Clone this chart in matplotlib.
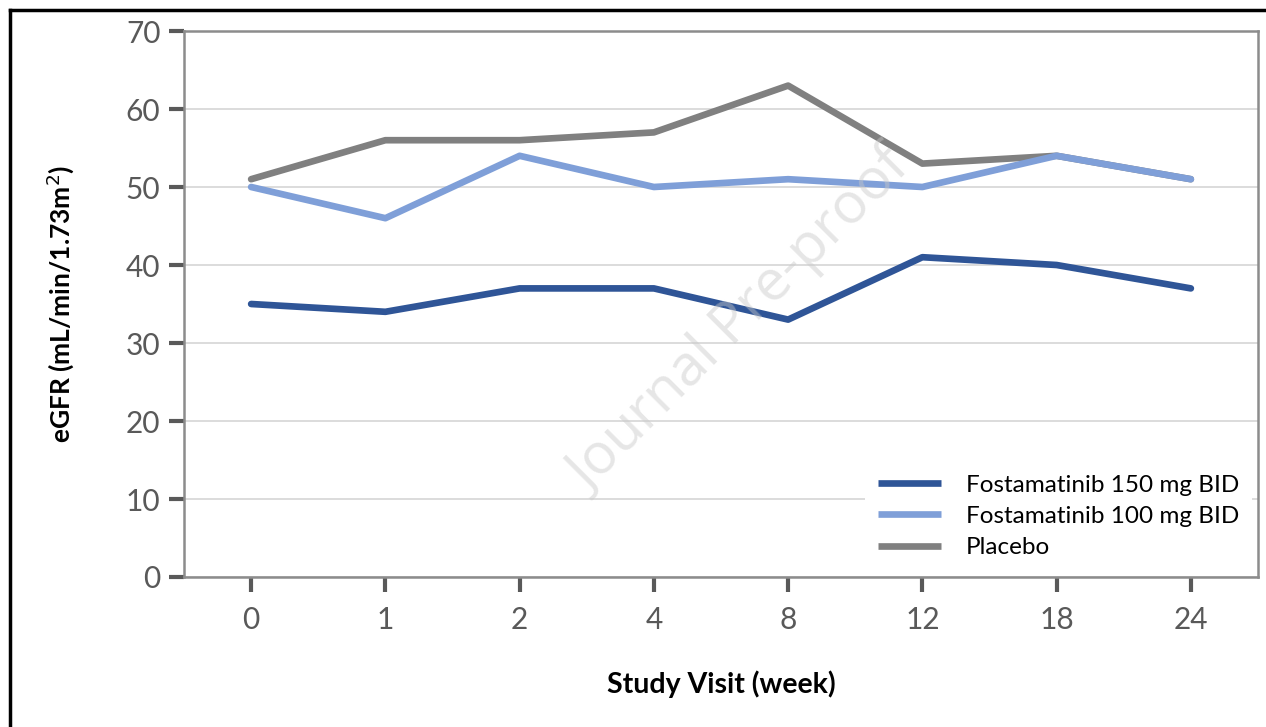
import matplotlib.pyplot as plt
from matplotlib.lines import Line2D

plt.rcParams['font.family'] = ['Lato', 'DejaVu Sans']

weeks = ['0', '1', '2', '4', '8', '12', '18', '24']
fosta150 = [35, 34, 37, 37, 33, 41, 40, 37]
fosta100 = [50, 46, 54, 50, 51, 50, 54, 51]
placebo = [51, 56, 56, 57, 63, 53, 54, 51]

series = [
    ('Fostamatinib 150 mg BID', fosta150, '#2f5597', 5),
    ('Fostamatinib 100 mg BID', fosta100, '#7f9fd8', 4),
    ('Placebo', placebo, '#808080', 3),
]

fig = plt.figure(figsize=(12.66, 7.27), dpi=100)
ax = fig.add_axes([184/1266, 1 - 577/727, (1258-184)/1266, (577-31)/727])

x = list(range(len(weeks)))
for name, vals, col, z in series:
    ax.plot(x, vals, color=col, lw=4.8, label=name, solid_capstyle='round', zorder=z)

ax.set_xlim(-0.5, len(weeks) - 0.5)
ax.set_ylim(0, 70)
ax.set_yticks(range(0, 71, 10))
ax.set_xticks(x)
ax.set_xticklabels(weeks)
ax.grid(axis='y', color='#d9d9d9', lw=1.3, zorder=0)
ax.set_axisbelow(True)

for s in ax.spines.values():
    s.set_color('#8c8c8c')
    s.set_linewidth(1.8)

ax.tick_params(axis='y', length=11, width=3, color='#595959', labelsize=21.5,
               labelcolor='#595959', pad=6)
ax.tick_params(axis='x', length=11, width=3, color='#595959', labelsize=21.5,
               labelcolor='#595959', pad=10, direction='out')

ax.set_ylabel('eGFR (mL/min/1.73m$^2$)', fontsize=19, fontweight='bold', labelpad=36)
ax.set_xlabel('Study Visit (week)', fontsize=20.5, fontweight='bold', labelpad=26)

leg = ax.legend(loc='lower right', bbox_to_anchor=(1.006, -0.012), fontsize=17.5,
                frameon=True, handlelength=2.6, handletextpad=1.0,
                labelspacing=0.42, borderpad=0.55)
leg.get_frame().set_edgecolor('none')
leg.get_frame().set_facecolor('white')
leg.get_frame().set_alpha(1)
leg.set_zorder(7)
for h in leg.get_lines():
    h.set_solid_capstyle('butt')

# watermark
ax.text(0.518, 0.467, 'Journal Pre-proof', transform=ax.transAxes, fontsize=41,
        color='#c8c8c8', alpha=0.45, rotation=45, ha='center', va='center',
        zorder=6, family=['Open Sans', 'DejaVu Sans'])

# outer frame (top and left)
fig.add_artist(Line2D([10/1266, 1], [1 - 10/727, 1 - 10/727], color='black', lw=2.5))
fig.add_artist(Line2D([10/1266, 10/1266], [0, 1 - 10/727], color='black', lw=2.5))

fig.savefig('out.png', dpi=100, facecolor='white')
